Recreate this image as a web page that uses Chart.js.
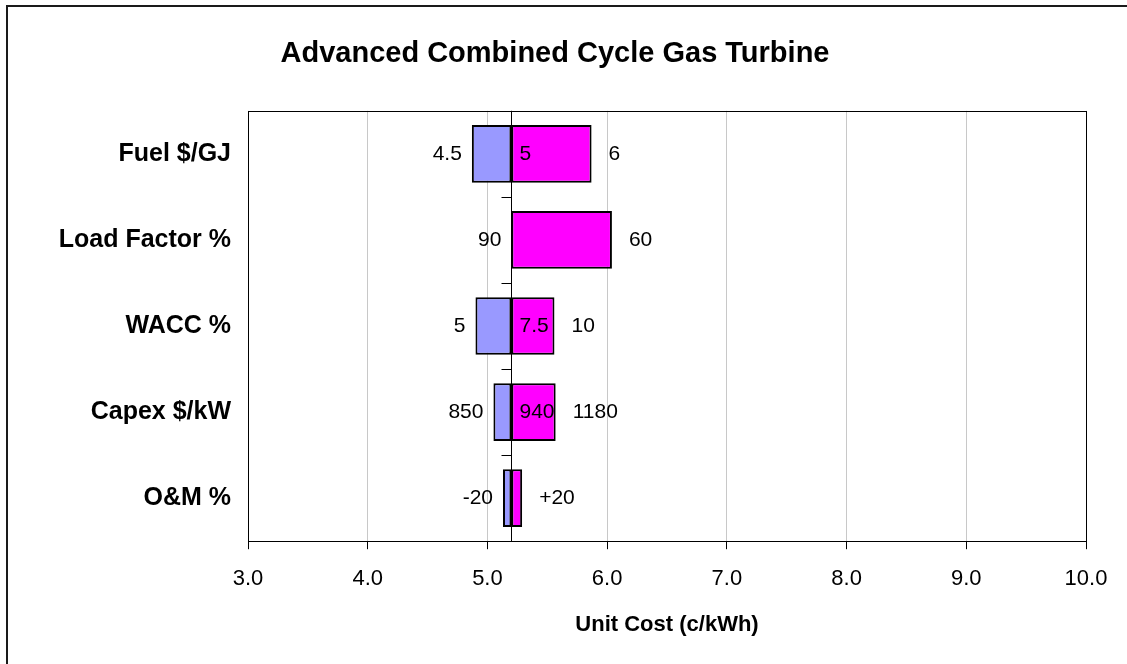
<!DOCTYPE html>
<html lang="en">
<head>
<meta charset="UTF-8">
<title>Advanced Combined Cycle Gas Turbine</title>
<style>
  html, body { margin: 0; padding: 0; background: #fff; }
</style>
<script src="https://cdn.jsdelivr.net/npm/chart.js"></script>
</head>
<body>
<canvas id="tornado" width="1127" height="664"></canvas>
<script>
// sensitivity of unit cost to each input, around the base case
const categories = ['Fuel $/GJ', 'Load Factor %', 'WACC %', 'Capex $/kW', 'O&M %'];
const baseCost = 5.2;
const lowCost = [4.87, 5.2, 4.90, 5.05, 5.13];
const highCost = [5.87, 6.04, 5.56, 5.57, 5.29];
const lowLabels = ['4.5', '90', '5', '850', '-20'];
const midLabels = ['5', '', '7.5', '940', ''];
const highLabels = ['6', '60', '10', '1180', '+20'];
const xMin = 3, xMax = 10;

const FONT = '"Liberation Sans", Arial, sans-serif';

const tornadoExtras = {
  id: 'tornadoExtras',
  beforeDraw(chart) {
    const ctx = chart.ctx;
    ctx.save();
    ctx.fillStyle = '#fff';
    ctx.fillRect(0, 0, chart.width, chart.height);
    ctx.strokeStyle = '#1a1a1a';
    ctx.lineWidth = 2;
    ctx.strokeRect(7, 6, chart.width + 20, chart.height + 20);
    ctx.restore();
  },
  afterDatasetsDraw(chart) {
    const { ctx, chartArea: a, scales: { x, y } } = chart;
    ctx.save();
    // plot box
    ctx.strokeStyle = '#000';
    ctx.lineWidth = 1;
    ctx.strokeRect(Math.round(a.left) + 0.5, Math.round(a.top) + 0.5,
                   Math.round(a.right - a.left), Math.round(a.bottom - a.top));
    // base case line with category separators
    const bx = Math.round(x.getPixelForValue(baseCost)) + 0.5;
    ctx.beginPath();
    ctx.moveTo(bx, a.top);
    ctx.lineTo(bx, a.bottom);
    for (let i = 1; i < categories.length; i++) {
      const yy = Math.round((y.getPixelForValue(i - 1) + y.getPixelForValue(i)) / 2) + 0.5;
      ctx.moveTo(bx - 10, yy);
      ctx.lineTo(bx, yy);
    }
    ctx.stroke();
    // input values next to the bars
    ctx.fillStyle = '#000';
    ctx.font = '21px ' + FONT;
    ctx.textBaseline = 'middle';
    categories.forEach((c, i) => {
      const cy = y.getPixelForValue(i);
      ctx.textAlign = 'right';
      ctx.fillText(lowLabels[i], x.getPixelForValue(lowCost[i]) - 10, cy);
      ctx.textAlign = 'left';
      if (midLabels[i]) ctx.fillText(midLabels[i], bx + 8, cy);
      ctx.fillText(highLabels[i], x.getPixelForValue(highCost[i]) + 17, cy);
    });
    ctx.restore();
  }
};

new Chart(document.getElementById('tornado'), {
  type: 'bar',
  data: {
    labels: categories,
    datasets: [
      {
        label: 'Low',
        data: lowCost.map(v => [v, baseCost]),
        backgroundColor: '#9999ff',
        borderColor: '#000',
        borderWidth: 2,
        borderSkipped: false,
        grouped: false,
        categoryPercentage: 1,
        barPercentage: 0.67
      },
      {
        label: 'High',
        data: highCost.map(v => [baseCost, v]),
        backgroundColor: '#ff00ff',
        borderColor: '#000',
        borderWidth: 2,
        borderSkipped: false,
        grouped: false,
        categoryPercentage: 1,
        barPercentage: 0.67
      }
    ]
  },
  options: {
    indexAxis: 'y',
    responsive: false,
    animation: false,
    devicePixelRatio: 1,
    layout: { padding: { left: 24, right: 41, top: 0, bottom: 0 } },
    plugins: {
      legend: { display: false },
      tooltip: { enabled: false },
      title: {
        display: true,
        text: 'Advanced Combined Cycle Gas Turbine',
        color: '#000',
        font: { family: FONT, size: 29, weight: 'bold' },
        padding: { top: 37, bottom: 39 }
      }
    },
    scales: {
      x: {
        min: xMin,
        max: xMax,
        ticks: {
          stepSize: 1,
          color: '#000',
          font: { family: FONT, size: 22 },
          padding: 17,
          maxRotation: 0,
          callback: v => Number(v).toFixed(1)
        },
        grid: { color: '#c8c8c8', tickColor: '#000', tickLength: 8 },
        border: { display: true, color: '#000', width: 1 },
        title: {
          display: true,
          text: 'Unit Cost (c/kWh)',
          color: '#000',
          font: { family: FONT, size: 22, weight: 'bold' },
          padding: { top: 2, bottom: 26 }
        }
      },
      y: {
        type: 'category',
        grid: { display: false },
        border: { display: false },
        ticks: {
          color: '#000',
          font: { family: FONT, size: 25, weight: 'bold' },
          padding: 9
        },
        afterFit(scale) { scale.width = 224; }
      }
    }
  },
  plugins: [tornadoExtras]
});
</script>
</body>
</html>
